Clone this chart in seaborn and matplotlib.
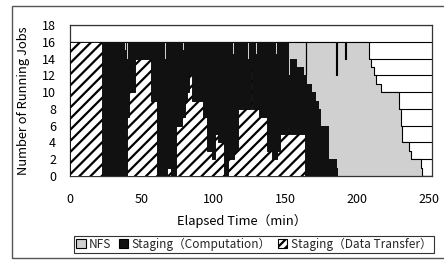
import matplotlib
matplotlib.use("Agg")
import matplotlib.pyplot as plt
import seaborn as sns
import pandas as pd
from matplotlib.patches import Patch, Rectangle

# step data (time in min, running jobs)
nfs_t = [0, 164.0, 164.6, 185.0, 185.6, 191.3, 191.8, 208.0, 209.5, 211.5, 213.0,
         216.6, 229.3, 230.5, 231.2, 236.3, 237.5, 244.4, 245.1, 252]
nfs_v = [16, 12, 16, 12, 16, 14, 16, 14, 13, 12, 11,
         10, 8, 6, 4, 3, 2, 1, 0, 0]

comp_t = [0, 38.5, 38.9, 40.0, 40.4, 52.0, 52.4, 66.3, 66.7, 72.1, 72.5, 78.7, 79.1,
          85.4, 85.8, 100.7, 101.1, 108.3, 108.7, 113.7, 114.1, 118.1, 118.5, 123.9,
          124.3, 129.7, 130.1, 143.7, 144.1, 152.4, 153.0, 158.1, 162.7, 165.0, 168.5,
          171.0, 173.0, 175.0, 180.4, 185.7, 186.6, 252]
comp_v = [16, 15, 16, 14, 16, 15, 16, 14, 16, 12, 16, 15, 16,
          14.5, 16, 13, 16, 15, 16, 14.5, 16, 14.5, 16, 14,
          16, 14.5, 16, 14.5, 16, 12, 14, 13, 12, 11, 10,
          9, 8, 6, 2, 1, 0, 0]

xfer_t = [0, 22.3, 39.4, 41.0, 45.0, 56.2, 60.4, 67.8, 70.0, 73.6, 77.8, 80.0, 81.7,
          83.0, 84.7, 92.8, 95.2, 98.7, 101.0, 103.3, 107.2, 110.3, 114.0, 117.0,
          125.8, 126.4, 131.5, 137.2, 140.7, 144.2, 146.0, 151.5, 152.2, 163.6, 252]
xfer_v = [16, 0, 7, 10, 14, 9, 0, 1, 0, 6, 7, 9, 10,
          12, 9, 7, 3, 2, 5, 4, 0, 2, 3, 8,
          13, 8, 7, 3, 2, 3, 5, 6, 5, 0, 0]

labels = ["NFS", "Staging（Computation）", "Staging（Data Transfer）"]
x_ticks = [0, 50, 100, 150, 200, 250]
y_ticks = [0, 2, 4, 6, 8, 10, 12, 14, 16, 18]

sns.set_theme(style="white")
plt.rcParams['font.family'] = ['Noto Sans CJK JP', 'DejaVu Sans']
plt.rcParams['hatch.linewidth'] = 1.6

W, H = 444, 262
fig = plt.figure(figsize=(W / 100, H / 100), dpi=100)
fig.patch.set_facecolor('white')
ax = fig.add_axes([70 / W, 1 - 176 / H, 362 / W, 151 / H])

# outer chart frame
fig.patches.append(Rectangle((12 / W, 1 - 258 / H), 1.0, 252 / H, transform=fig.transFigure,
                             fill=False, edgecolor='#555555', lw=1.0))

nfs = pd.DataFrame({"t": nfs_t, "v": nfs_v})
ax.fill_between(nfs["t"], nfs["v"], step="post", facecolor="#d0d0d0", lw=0, zorder=2)
sns.lineplot(data=nfs, x="t", y="v", drawstyle="steps-post", color="black", lw=0.8,
             ax=ax, zorder=2.1)
ax.fill_between(comp_t, comp_v, step="post", facecolor="#111111", lw=0, zorder=3)
ax.fill_between(xfer_t, xfer_v, step="post", facecolor="white", edgecolor="black",
                hatch="///", lw=0.6, zorder=4)

ax.set_xlim(0, 252)
ax.set_ylim(0, 18)
ax.set_xticks(x_ticks)
ax.set_yticks(y_ticks)
ax.yaxis.grid(True, color="black", lw=0.8)
ax.set_axisbelow(True)
ax.tick_params(axis="x", length=0, pad=12, labelsize=9, colors="black")
ax.tick_params(axis="y", length=0, pad=10, labelsize=9, colors="black")
for s in ax.spines.values():
    s.set_color("#333333")
    s.set_linewidth(0.9)

ax.set_xlabel("Elapsed Time（min）", fontsize=9.3, color="black")
ax.set_ylabel("Number of Running Jobs", fontsize=9.3, color="black")
ax.xaxis.set_label_coords((242 - 70) / 362, -(214 - 176) / 151)
ax.yaxis.set_label_coords((30 - 70) / 362, 0.5)

handles = [Patch(facecolor="#d0d0d0", edgecolor="black", lw=0.8),
           Patch(facecolor="#111111", edgecolor="black", lw=0.8),
           Patch(facecolor="white", edgecolor="black", hatch="////", lw=0.8)]
leg = fig.legend(handles, labels, loc="center", ncol=3,
                 bbox_to_anchor=(254 / W, 1 - 244.5 / H), bbox_transform=fig.transFigure,
                 fontsize=8.5, frameon=True, fancybox=False, borderpad=0.2,
                 handlelength=0.8, handleheight=0.8, handletextpad=0.3,
                 columnspacing=0.6, borderaxespad=0)
leg.get_frame().set_edgecolor("black")
leg.get_frame().set_linewidth(0.8)

fig.savefig("out.png", dpi=100)
